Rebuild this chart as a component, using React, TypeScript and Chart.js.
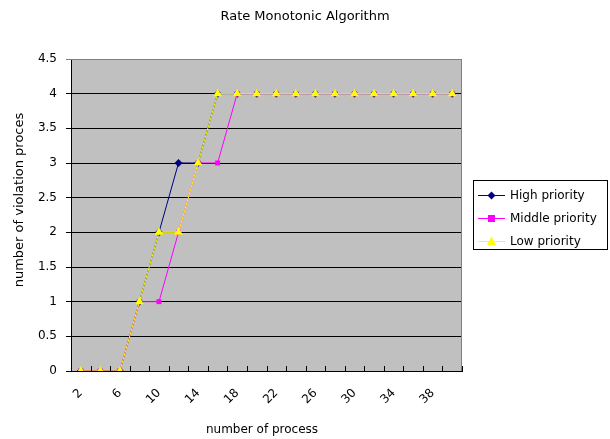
import React, { useEffect, useRef } from 'react';
import { Chart, registerables } from 'chart.js';
Chart.register(...registerables);

const categories = ['2','4','6','8','10','12','14','16','18','20','22','24','26','28','30','32','34','36','38','40'];
const highPriority = [0,0,0,1,2,3,3,4,4,4,4,4,4,4,4,4,4,4,4,4];
const middlePriority = [0,0,0,1,1,2,3,3,4,4,4,4,4,4,4,4,4,4,4,4];
const lowPriority = [0,0,0,1,2,2,3,4,4,4,4,4,4,4,4,4,4,4,4,4];
const seriesNames = ['High priority', 'Middle priority', 'Low priority'];
const seriesColors = ['#000080', '#FF00FF', '#FFFF00'];
const seriesMarkers = ['rectRot', 'rect', 'triangle'];
const yMin = 0;
const yMax = 4.5;
const yStep = 0.5;
const chartTitle = 'Rate Monotonic Algorithm';
const xTitle = 'number of process';
const yTitle = 'number of violation proces';

const FONT = '"DejaVu Sans", sans-serif';

function drawMarker(ctx: CanvasRenderingContext2D, style: string, x: number, y: number, color: string) {
  ctx.save();
  ctx.fillStyle = color;
  ctx.beginPath();
  if (style === 'rectRot') {
    const r = 4;
    ctx.moveTo(x, y - r); ctx.lineTo(x + r, y); ctx.lineTo(x, y + r); ctx.lineTo(x - r, y);
  } else if (style === 'rect') {
    ctx.rect(x - 3.5, y - 3.5, 7, 7);
  } else {
    ctx.moveTo(x, y - 5); ctx.lineTo(x + 4.5, y + 3.5); ctx.lineTo(x - 4.5, y + 3.5);
  }
  ctx.closePath();
  ctx.fill();
  ctx.restore();
}

const plotPlugin = {
  id: 'plotDeco',
  beforeDraw(chart: any) {
    const { ctx, chartArea: a } = chart;
    ctx.save();
    ctx.fillStyle = '#C0C0C0';
    ctx.fillRect(a.left, a.top, a.right - a.left, a.bottom - a.top);
    ctx.restore();
  },
  afterDatasetsDraw(chart: any) {
    const { ctx, chartArea: a } = chart;
    ctx.save();
    ctx.strokeStyle = '#808080';
    ctx.lineWidth = 1;
    ctx.beginPath();
    ctx.moveTo(a.left, Math.round(a.top) + 0.5);
    ctx.lineTo(Math.round(a.right) - 0.5, Math.round(a.top) + 0.5);
    ctx.lineTo(Math.round(a.right) - 0.5, a.bottom);
    ctx.stroke();
    const xs = chart.scales.x;
    const n = categories.length;
    const w = (a.right - a.left) / n;
    ctx.strokeStyle = '#000';
    ctx.beginPath();
    for (let i = 0; i <= n; i++) {
      const px = Math.round(xs.getPixelForValue(0) - w / 2 + i * w) + 0.5;
      ctx.moveTo(px, a.bottom);
      ctx.lineTo(px, a.bottom - 5);
    }
    ctx.stroke();
    ctx.restore();
  },
  afterDraw(chart: any) {
    const { ctx } = chart;
    ctx.save();
    ctx.fillStyle = '#000';
    ctx.textAlign = 'center';
    ctx.textBaseline = 'middle';
    ctx.font = '13px ' + FONT;
    ctx.fillText(chartTitle, 305, 17);
    ctx.font = '12px ' + FONT;
    ctx.fillText(xTitle, 262, 430);
    ctx.save();
    ctx.translate(20, 200);
    ctx.rotate(-Math.PI / 2);
    ctx.font = '13px ' + FONT;
    ctx.fillText(yTitle, 0, 0);
    ctx.restore();
    const bx = 473.5, by = 180.5, bw = 134, bh = 69;
    ctx.strokeStyle = '#000';
    ctx.lineWidth = 1;
    ctx.strokeRect(bx, by, bw, bh);
    ctx.font = '12px ' + FONT;
    ctx.textAlign = 'left';
    ctx.textBaseline = 'middle';
    const ys = [195, 218, 241];
    for (let i = 0; i < 3; i++) {
      ctx.strokeStyle = seriesColors[i];
      ctx.beginPath();
      ctx.moveTo(478, ys[i] + 0.5);
      ctx.lineTo(505, ys[i] + 0.5);
      ctx.stroke();
      drawMarker(ctx, seriesMarkers[i], 491.5, ys[i] + 0.5, seriesColors[i]);
      ctx.fillStyle = '#000';
      ctx.fillText(seriesNames[i], 510, ys[i] + 1);
    }
    ctx.restore();
  },
};

export default function App() {
  const ref = useRef<HTMLCanvasElement>(null);
  useEffect(() => {
    const data = [highPriority, middlePriority, lowPriority];
    const chart = new Chart(ref.current!, {
      type: 'line',
      data: {
        labels: categories,
        datasets: data.map((d, i) => ({
          label: seriesNames[i],
          data: d,
          borderColor: seriesColors[i],
          backgroundColor: seriesColors[i],
          borderWidth: 1,
          pointStyle: seriesMarkers[i] as any,
          pointRadius: i === 2 ? 5 : i === 0 ? 4 : 3.5,
          pointBorderWidth: 0,
          tension: 0,
          order: 2 - i,
        })),
      },
      options: {
        animation: false,
        responsive: false,
        layout: { padding: { left: 0, right: 148, top: 59, bottom: 0 } },
        plugins: {
          legend: { display: false },
          tooltip: { enabled: false },
          title: { display: false },
        },
        scales: {
          x: {
            type: 'category',
            offset: true,
            grid: { display: false, offset: true },
            border: { display: true, color: '#000', width: 1 },
            ticks: {
              autoSkip: false,
              maxRotation: 45,
              minRotation: 45,
              color: '#000',
              padding: 7,
              font: { family: FONT, size: 12 },
              callback: (_v: any, i: number) => (i % 2 === 0 ? categories[i] : ''),
            },
            afterFit: (s: any) => { s.height = 68; },
          },
          y: {
            min: yMin,
            max: yMax,
            grid: {
              color: (c: any) => (c.tick && c.tick.value === yMax ? '#808080' : '#000'),
              tickLength: 5,
              drawTicks: true,
            },
            border: { display: true, color: '#000', width: 1 },
            ticks: {
              stepSize: yStep,
              color: '#000',
              padding: 9,
              font: { family: FONT, size: 12 },
              callback: (v: any) => String(Number(v)),
            },
            afterFit: (s: any) => { s.width = 71; },
          },
        },
      },
      plugins: [plotPlugin],
    });
    return () => chart.destroy();
  }, []);
  return (
    <div style={{ position: 'absolute', left: 0, top: 0, width: 610, height: 439, background: '#fff' }}>
      <canvas ref={ref} width={610} height={439} />
    </div>
  );
}
